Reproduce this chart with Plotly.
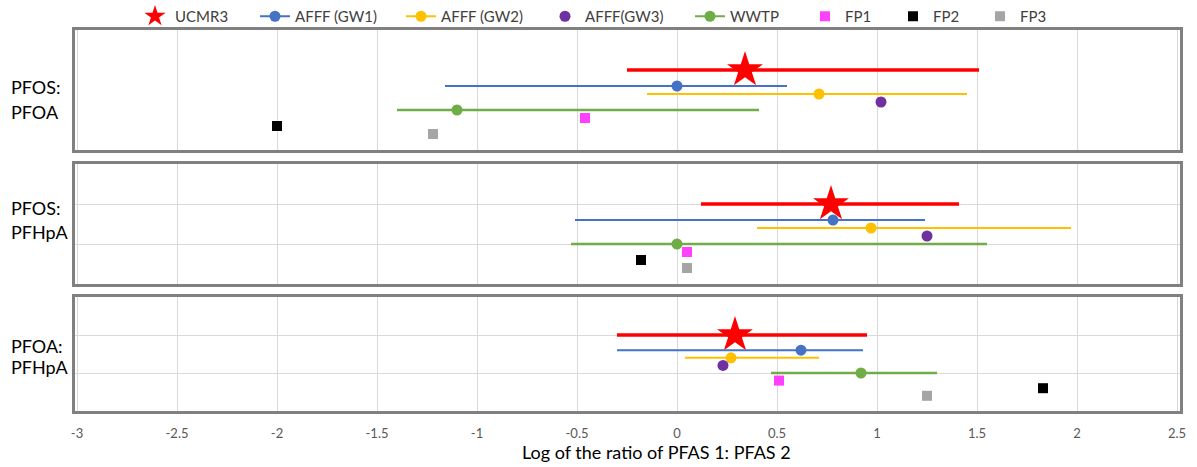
import plotly.graph_objects as go

# Ratio pairs shown in the three stacked panels (top to bottom), two lines each
pair_labels = [("PFOS:", "PFOA"), ("PFOS:", "PFHpA"), ("PFOA:", "PFHpA")]

# Sources
series = ["UCMR3", "AFFF (GW1)", "AFFF (GW2)", "AFFF(GW3)", "WWTP", "FP1", "FP2", "FP3"]

# Vertical offset of each source inside a panel
row_y = [2.0, 1.6, 1.4, 1.2, 1.0, 0.8, 0.6, 0.4]

# log10 ratio: central value, low and high of the range (None = single value)
pfos_pfoa_mid = [0.34, 0.00, 0.71, 1.02, -1.10, -0.46, -2.00, -1.22]
pfos_pfoa_low = [-0.25, -1.16, -0.15, None, -1.40, None, None, None]
pfos_pfoa_high = [1.51, 0.55, 1.45, None, 0.41, None, None, None]

pfos_pfhpa_mid = [0.77, 0.78, 0.97, 1.25, 0.00, 0.05, -0.18, 0.05]
pfos_pfhpa_low = [0.12, -0.51, 0.40, None, -0.53, None, None, None]
pfos_pfhpa_high = [1.41, 1.24, 1.97, None, 1.55, None, None, None]

pfoa_pfhpa_mid = [0.29, 0.62, 0.27, 0.23, 0.92, 0.51, 1.83, 1.25]
pfoa_pfhpa_low = [-0.30, -0.30, 0.04, None, 0.47, None, None, None]
pfoa_pfhpa_high = [0.95, 0.93, 0.71, None, 1.30, None, None, None]

x_ticks = [-3, -2.5, -2, -1.5, -1, -0.5, 0, 0.5, 1, 1.5, 2, 2.5]

panels = [
    (pfos_pfoa_mid, pfos_pfoa_low, pfos_pfoa_high),
    (pfos_pfhpa_mid, pfos_pfhpa_low, pfos_pfhpa_high),
    (pfoa_pfhpa_mid, pfoa_pfhpa_low, pfoa_pfhpa_high),
]

colors = ["#FF0000", "#4472C4", "#FFC000", "#7030A0", "#70AD47", "#FF40FF", "#000000", "#A5A5A5"]
symbols = ["star", "circle", "circle", "circle", "circle", "square", "square", "square"]
sizes = [27, 11, 11, 11, 11, 10, 10, 10]
bar_width = [3.5, 2, 2, 2, 2.5, 2, 2, 2]
legend_mode = ["markers", "lines+markers", "lines+markers", "markers",
               "lines+markers", "markers", "markers", "markers"]
legend_left = [135, 255, 401, 545, 690, 805, 893, 980]

W, H = 1197, 467
FONT = "Lato"

fig = go.Figure()

for p, (mid, low, high) in enumerate(panels):
    ax = "" if p == 0 else str(p + 1)
    for i, name in enumerate(series):
        err = None
        if low[i] is not None:
            err = dict(
                type="data", symmetric=False,
                array=[high[i] - mid[i]], arrayminus=[mid[i] - low[i]],
                color=colors[i], thickness=bar_width[i], width=0,
            )
        fig.add_trace(go.Scatter(
            x=[mid[i]], y=[row_y[i]],
            mode=legend_mode[i],
            name=name,
            marker=dict(symbol=symbols[i], size=sizes[i], color=colors[i],
                        line=dict(width=0)),
            line=dict(color=colors[i], width=2),
            error_x=err,
            xaxis="x" + ax, yaxis="y" + ax,
            showlegend=(p == 0),
            legend="legend" if i == 0 else f"legend{i + 1}",
            cliponaxis=False,
        ))

# panel placement (pixels from top)
panel_px = [(30, 150), (164, 284), (297, 411)]
# label lines (pixels from top) for each panel
label_px = [(87, 112), (208, 232), (346, 367)]
x_dom = [74.5 / W, 1179.5 / W]

layout = dict(
    width=W, height=H,
    margin=dict(l=0, r=0, t=0, b=0, autoexpand=False),
    paper_bgcolor="white", plot_bgcolor="white",
    font=dict(family=FONT, color="#000000"),
)

for p, (top, bottom) in enumerate(panel_px):
    ax = "" if p == 0 else str(p + 1)
    layout["xaxis" + ax] = dict(
        domain=x_dom, range=[-3.0125, 2.5125],
        tickvals=x_ticks, ticktext=[f"{v:g}" for v in x_ticks],
        showticklabels=(p == 2),
        showgrid=True, gridcolor="#D9D9D9", gridwidth=1,
        zeroline=False,
        showline=True, mirror=True, linecolor="#808080", linewidth=3,
        ticks="", tickfont=dict(family=FONT, size=13, color="#595959"),
        ticklabelstandoff=8, ticklabeloverflow="allow",
        anchor="y" + ax,
        fixedrange=True,
    )
    layout["yaxis" + ax] = dict(
        domain=[1 - bottom / H, 1 - top / H], range=[0, 3],
        tickvals=[1, 2], showticklabels=False,
        showgrid=(p != 0), gridcolor="#D9D9D9", gridwidth=1,
        zeroline=False,
        showline=True, mirror=True, linecolor="#808080", linewidth=3,
        ticks="", anchor="x" + ax,
        fixedrange=True,
    )

for i in range(len(series)):
    key = "legend" if i == 0 else f"legend{i + 1}"
    layout[key] = dict(
        x=legend_left[i] / W, xanchor="left",
        y=1.0, yanchor="top",
        orientation="h",
        bgcolor="rgba(0,0,0,0)",
        font=dict(family=FONT, size=15, color="#404040"),
        itemsizing="trace",
    )

annotations = []
for (first, second), (y1, y2) in zip(pair_labels, label_px):
    for text, y in ((first, y1), (second, y2)):
        annotations.append(dict(
            text=text, x=9 / W, y=1 - y / H,
            xref="paper", yref="paper", xanchor="left", yanchor="middle",
            showarrow=False,
            font=dict(family=FONT, size=18, color="#000000"),
        ))
annotations.append(dict(
    text="Log of the ratio of PFAS 1: PFAS 2",
    x=656 / W, y=1 - 452 / H, xref="paper", yref="paper",
    xanchor="center", yanchor="middle", showarrow=False,
    font=dict(family=FONT, size=18, color="#000000"),
))
layout["annotations"] = annotations

fig.update_layout(**layout)
fig.write_html("out.html")
